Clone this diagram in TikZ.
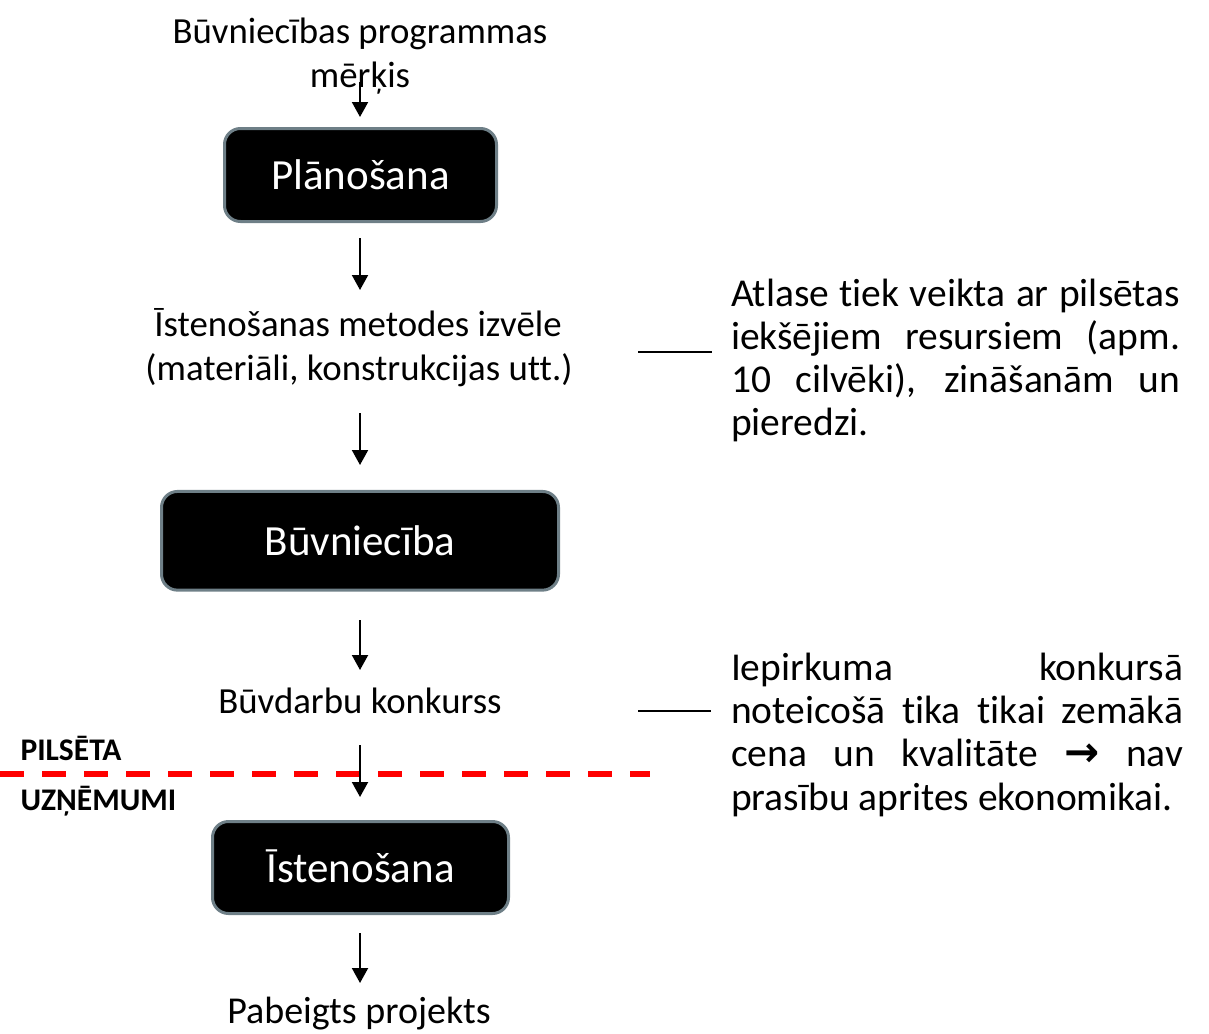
\documentclass[tikz,border=0pt]{standalone}
\usepackage{fontspec}
\setmainfont{Carlito}[Ligatures=NoCommon]
\newfontfamily\dvsans{DejaVu Sans}
\usetikzlibrary{arrows.meta}
\definecolor{boxgray}{HTML}{6E7F87}
\begin{document}
\begin{tikzpicture}[x=1pt,y=-1pt,
  every node/.style={inner sep=0pt,outer sep=0pt},
  txt/.style={font=\fontsize{36.8}{43}\selectfont,anchor=base},
  rtxt/.style={font=\fontsize{39.5}{43}\selectfont,anchor=base west},
  lbl/.style={font=\fontsize{31.5}{36}\selectfont\bfseries,anchor=base west},
  stage/.style={draw=boxgray,line width=3pt,fill=black,rounded corners=16pt,text=white,
    font=\fontsize{43}{50}\selectfont,text height=29.4pt,text depth=0pt},
  arr/.style={line width=2pt,-{Triangle[length=15pt,width=16pt]}},
  conn/.style={line width=1.5pt},
  divider/.style={draw=red,line width=6pt,dash pattern=on 24pt off 18pt}]
\useasboundingbox (0,0) rectangle (1209,1033);

% main column
\node[txt] (goal1) at (360,43.3) {Būvniecības programmas};
\node[txt] (goal2) at (360,87.3) {mērķis};
\node[stage,minimum width=272pt,minimum height=93pt] (plan) at (360.5,175) {Plānošana};
\node[txt] (meth1) at (358,336.7) {Īstenošanas metodes izvēle};
\node[txt] (meth2) at (359,380) {(materiāli, konstrukcijas utt.)};
\node[stage,minimum width=397pt,minimum height=98.7pt] (build) at (360,540.8) {Būvniecība};
\node[txt] (tender) at (360,713.3) {Būvdarbu konkurss};
\node[stage,minimum width=296pt,minimum height=92pt] (impl) at (360.5,867.5) {Īstenošana};
\node[txt,font=\fontsize{38}{44}\selectfont] (done) at (359,1023) {Pabeigts projekts};

% side labels and divider
\coordinate (dvs) at (0,774);
\coordinate (dve) at (650,774);
\draw[divider] (dvs) -- (dve);
\node[lbl] (city) at (20.5,760.7) {PILSĒTA};
\node[lbl] (firms) at (20.5,810.7) {UZŅĒMUMI};

% arrows
\coordinate (a1s) at (360,82);  \coordinate (a1e) at (360,117);
\coordinate (a2s) at (360,238); \coordinate (a2e) at (360,290);
\coordinate (a3s) at (360,413); \coordinate (a3e) at (360,465);
\coordinate (a4s) at (360,620); \coordinate (a4e) at (360,670);
\coordinate (a5s) at (360,745); \coordinate (a5e) at (360,797);
\coordinate (a6s) at (360,933); \coordinate (a6e) at (360,983);
\draw[arr] (a1s) -- (a1e);
\draw[arr] (a2s) -- (a2e);
\draw[arr] (a3s) -- (a3e);
\draw[arr] (a4s) -- (a4e);
\draw[arr] (a5s) -- (a5e);
\draw[arr] (a6s) -- (a6e);

% right notes
\node[rtxt] (r1a) at (731,306.7) {\hbox to 449pt{Atlase tiek veikta ar pilsētas}};
\node[rtxt] (r1b) at (731,349.3) {\hbox to 449pt{iekšējiem resursiem (apm.}};
\node[rtxt] (r1c) at (731,392.5) {\hbox to 449pt{10 cilvēki), zināšanām un}};
\node[rtxt] (r1d) at (731,435.7) {pieredzi.};

\node[rtxt] (r2a) at (731,680) {\hbox to 452pt{Iepirkuma konkursā}};
\node[rtxt] (r2b) at (731,723) {\hbox to 452pt{noteicošā tika tikai zemākā}};
\node[rtxt] (r2c) at (731,766.5) {\hbox to 452pt{cena un kvalitāte {\dvsans\bfseries\fontsize{42}{44}\selectfont →} nav}};
\node[rtxt] (r2d) at (731,810) {prasību aprites ekonomikai.};

\coordinate (c1s) at (638,352); \coordinate (c1e) at (712,352);
\coordinate (c2s) at (638,711); \coordinate (c2e) at (711,711);
\draw[conn] (c1s) -- (c1e);
\draw[conn] (c2s) -- (c2e);
\end{tikzpicture}
\end{document}
